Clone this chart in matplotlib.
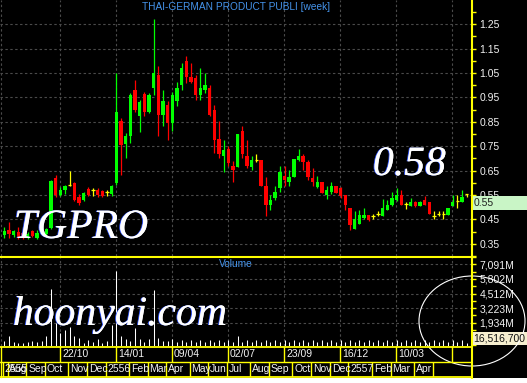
import matplotlib
matplotlib.use("Agg")
import matplotlib.pyplot as plt
import matplotlib.patheffects as pe
from matplotlib.patches import Rectangle, Ellipse
import numpy as np

# weekly OHLC, week 0 = 30/07/2012
opens = [0.385, 0.408, 0.385, 0.400, 0.395, 0.372, 0.401, 0.372, 0.390, 0.392,
         0.415, 0.620, 0.551, 0.572, 0.590, 0.599, 0.540, 0.531, 0.575, 0.569,
         0.572, 0.565, 0.563, 0.556, 0.599, 0.852, 0.759, 0.790, 0.981, 0.872,
         0.963, 0.892, 0.990, 1.043, 0.879, 0.920, 0.845, 0.934, 1.002, 1.101,
         1.033, 1.029, 0.961, 0.981, 0.988, 0.900, 0.779, 0.711, 0.738, 0.670,
         0.665, 0.811, 0.711, 0.665, 0.695, 0.692, 0.588, 0.511, 0.538, 0.579,
         0.629, 0.602, 0.624, 0.692, 0.711, 0.684, 0.620, 0.583, 0.602, 0.552,
         0.561, 0.588, 0.579, 0.552, 0.497, 0.411, 0.433, 0.456, 0.470, 0.463,
         0.474, 0.466, 0.488, 0.511, 0.531, 0.552, 0.515, 0.504, 0.520, 0.504,
         0.531, 0.520, 0.466, 0.474, 0.474, 0.470, 0.504, 0.524, 0.520, 0.553]
highs = [0.419, 0.441, 0.408, 0.420, 0.400, 0.398, 0.405, 0.405, 0.410, 0.415,
         0.612, 0.630, 0.583, 0.590, 0.650, 0.602, 0.553, 0.562, 0.583, 0.578,
         0.578, 0.572, 0.572, 0.590, 1.049, 0.865, 0.804, 0.968, 1.022, 0.940,
         0.972, 0.968, 1.272, 1.078, 0.981, 0.934, 0.974, 1.015, 1.090, 1.120,
         1.090, 1.043, 1.070, 1.050, 1.002, 0.920, 0.852, 0.774, 0.752, 0.688,
         0.801, 0.831, 0.774, 0.711, 0.719, 0.692, 0.624, 0.552, 0.588, 0.670,
         0.670, 0.651, 0.698, 0.738, 0.719, 0.692, 0.661, 0.629, 0.602, 0.586,
         0.602, 0.588, 0.583, 0.552, 0.497, 0.483, 0.490, 0.497, 0.470, 0.474,
         0.483, 0.534, 0.530, 0.561, 0.579, 0.572, 0.520, 0.538, 0.525, 0.525,
         0.545, 0.520, 0.483, 0.483, 0.483, 0.497, 0.552, 0.552, 0.572, 0.553]
lows = [0.372, 0.372, 0.376, 0.370, 0.368, 0.368, 0.378, 0.368, 0.385, 0.388,
        0.410, 0.541, 0.548, 0.555, 0.585, 0.524, 0.510, 0.527, 0.548, 0.548,
        0.540, 0.542, 0.548, 0.545, 0.592, 0.633, 0.702, 0.763, 0.892, 0.810,
        0.872, 0.885, 0.961, 0.790, 0.831, 0.777, 0.811, 0.913, 0.981, 1.011,
        1.011, 0.940, 0.940, 0.970, 0.872, 0.722, 0.702, 0.643, 0.668, 0.602,
        0.665, 0.702, 0.661, 0.651, 0.684, 0.588, 0.463, 0.490, 0.531, 0.561,
        0.588, 0.588, 0.624, 0.688, 0.651, 0.610, 0.586, 0.579, 0.558, 0.534,
        0.556, 0.558, 0.538, 0.490, 0.406, 0.411, 0.433, 0.452, 0.442, 0.452,
        0.463, 0.466, 0.488, 0.506, 0.524, 0.511, 0.493, 0.504, 0.500, 0.504,
        0.511, 0.474, 0.452, 0.463, 0.452, 0.470, 0.504, 0.497, 0.520, 0.540]
closes = [0.401, 0.392, 0.401, 0.375, 0.372, 0.392, 0.381, 0.395, 0.400, 0.410,
          0.609, 0.552, 0.572, 0.588, 0.590, 0.531, 0.517, 0.559, 0.551, 0.569,
          0.551, 0.545, 0.563, 0.586, 0.890, 0.753, 0.790, 0.961, 0.900, 0.933,
          0.892, 0.961, 1.049, 0.879, 0.934, 0.845, 0.961, 0.988, 1.070, 1.033,
          1.015, 0.961, 0.988, 1.002, 0.879, 0.777, 0.719, 0.733, 0.681, 0.654,
          0.801, 0.719, 0.670, 0.692, 0.695, 0.588, 0.511, 0.531, 0.561, 0.643,
          0.613, 0.624, 0.698, 0.711, 0.684, 0.624, 0.602, 0.602, 0.558, 0.572,
          0.588, 0.558, 0.545, 0.511, 0.429, 0.452, 0.470, 0.470, 0.449, 0.463,
          0.474, 0.497, 0.511, 0.538, 0.552, 0.511, 0.515, 0.520, 0.504, 0.520,
          0.511, 0.474, 0.466, 0.474, 0.474, 0.497, 0.520, 0.524, 0.542, 0.553]
# weekly volume, millions of shares
volume = [350, 765, 264, 176, 176, 264, 350, 264, 350, 765,
          4957, 1880, 1055, 1290, 1530, 765, 560, 120, 410, 264,
          470, 120, 350, 1730, 6500, 765, 470, 350, 1440, 470,
          264, 470, 4800, 560, 350, 350, 470, 200, 400, 200,
          400, 200, 400, 200, 400, 200, 400, 200, 400, 200,
          765, 200, 400, 200, 400, 200, 400, 200, 400, 200,
          400, 200, 400, 200, 400, 200, 400, 200, 400, 200,
          400, 200, 400, 200, 400, 200, 400, 200, 400, 200,
          400, 200, 400, 200, 400, 200, 400, 200, 400, 200,
          400, 200, 400, 200, 400, 200, 400, 200, 400, 180]
last_volume = "16,516,700"

top_dates = ["22/10", "14/01", "09/04", "02/07", "23/09", "16/12", "10/03", ""]
top_idx = [12, 24, 36, 48, 60, 72, 84, 96]
month_lbl = ["2555", "Aug", "Sep", "Oct", "Nov", "Dec", "2556", "Feb", "Mar",
             "Apr", "May", "Jun", "Jul", "Aug", "Sep", "Oct", "Nov", "Dec",
             "2557", "Feb", "Mar", "Apr", ""]
month_idx = [0, 1, 5, 9, 14, 18, 22, 27, 31, 35, 40, 44, 48, 53, 57, 62, 66,
             70, 74, 79, 83, 88, 92]
price_ticks = [0.35, 0.45, 0.55, 0.65, 0.75, 0.85, 0.95, 1.05, 1.15, 1.25]
vol_ticks = [1934, 3223, 4512, 5802, 7091]

W, H = 527, 383
YEL = "#ffff00"
GRID = "#4a4a4a"
LBL = "#f2f2f2"
FONT = "Liberation Sans"

fig = plt.figure(figsize=(W / 100, H / 100), dpi=100, facecolor="black")


def add_px_axes(x0, y0, x1, y1, **kw):
    return fig.add_axes([x0 / W, 1 - y1 / H, (x1 - x0) / W, (y1 - y0) / H], **kw)


# x in week units: pixel = 4.3 + 4.67 * i
xl = ((0 - 4.3) / 4.67, (471 - 4.3) / 4.67)
n = len(opens)
idx = np.arange(n)

# ---- price panel
ax = add_px_axes(0, 0, 471, 256)
ax.set_facecolor("black")
ax.set_xlim(*xl)
ax.set_ylim(1.25 - (256 - 24.3) / 244.4, 1.25 + 24.3 / 244.4)
for s in ax.spines.values():
    s.set_visible(False)
ax.set_xticks([])
ax.yaxis.tick_right()
ax.set_yticks(price_ticks)
ax.set_yticklabels(["%.2f" % v for v in price_ticks])
ax.set_yticks(np.arange(0.30, 1.36, 0.1), minor=True)
ax.tick_params(axis="y", which="both", colors=YEL, labelcolor=LBL,
               length=3.5, width=1.0, pad=2.5, labelsize=7.5)
for t in ax.get_yticklabels():
    t.set_fontfamily(FONT)
for v in price_ticks:
    ax.axhline(v, color=GRID, lw=0.8, ls=(0, (2.2, 2.2)), zorder=0)
for i in top_idx:
    ax.axvline(i - 0.05, color=GRID, lw=0.8, ls=(0, (2.2, 2.2)), zorder=0)
ax.axvline(xl[0] + 0.2, color=GRID, lw=0.8, ls=(0, (2.2, 2.2)), zorder=0)

o = np.array(opens); c = np.array(closes)
hi = np.array(highs); lo = np.array(lows)
col = np.where(c > o, "#00ff00", np.where(c < o, "#ff0000", YEL))
ax.vlines(idx, lo, hi, colors=col, lw=0.9, zorder=2)
body = c != o
ax.bar(idx[body], (np.abs(c - o))[body], bottom=np.minimum(o, c)[body],
       width=0.72, color=col[body], lw=0, zorder=3)
ax.hlines(c[~body], idx[~body] - 0.38, idx[~body] + 0.38, colors=YEL,
          lw=0.9, zorder=3)

ax.text(0.5, 0.972, "THAI-GERMAN PRODUCT PUBLI [week]", transform=ax.transAxes,
        ha="center", va="center", color="#4593ea", fontsize=7.3, family=FONT)

# ---- volume panel
vx = add_px_axes(0, 257, 471, 346)
vx.set_facecolor("black")
vx.set_xlim(*xl)
vx.set_ylim(-117, 7706)
for s in vx.spines.values():
    s.set_visible(False)
vx.set_xticks([])
vx.yaxis.tick_right()
vx.set_yticks(vol_ticks)
vx.set_yticklabels(["{:,}M".format(v) for v in vol_ticks])
vx.set_yticks([645 * k for k in range(0, 13, 2)], minor=True)
vx.tick_params(axis="y", which="both", colors=YEL, labelcolor=LBL,
               length=3.5, width=1.0, pad=2.5, labelsize=7.5)
for t in vx.get_yticklabels():
    t.set_fontfamily(FONT)
for v in vol_ticks:
    vx.axhline(v, color=GRID, lw=0.8, ls=(0, (2.2, 2.2)), zorder=0)
for i in top_idx:
    vx.axvline(i - 0.05, color=GRID, lw=0.8, ls=(0, (2.2, 2.2)), zorder=0)
vx.axvline(xl[0] + 0.2, color=GRID, lw=0.8, ls=(0, (2.2, 2.2)), zorder=0)
vx.vlines(idx, -117, volume, colors="white", lw=0.75, zorder=2)
vx.text(0.5, 0.92, "Volume", transform=vx.transAxes, ha="center", va="center",
        color="#4593ea", fontsize=7.3, family=FONT)

# ---- date rows
dx = add_px_axes(0, 346, 471, 377)
dx.set_facecolor("black")
dx.set_xlim(*xl)
dx.set_ylim(2, 0)
dx.axis("off")
for i, lab in zip(top_idx, top_dates):
    dx.vlines(i - 0.05, 0, 1, colors=YEL, lw=1.0)
    dx.text(i + 0.35, 0.5, lab, ha="left", va="center", color=LBL,
            fontsize=7.5, family=FONT)
for i, lab in zip(month_idx, month_lbl):
    dx.vlines(i - 0.3, 1, 2, colors=YEL, lw=1.0)
    dx.text(i + 0.1, 1.5, lab, ha="left", va="center", color=LBL,
            fontsize=7.5, family=FONT)

# ---- overlay: frame lines, watermarks, boxes
ov = fig.add_axes([0, 0, 1, 1], zorder=10)
ov.set_xlim(0, W)
ov.set_ylim(H, 0)
ov.axis("off")
ov.patch.set_alpha(0)
ov.add_patch(Rectangle((0, 377.5), W, 6, color="white", lw=0))
ov.plot([471.5, 471.5], [0, 377.5], color=YEL, lw=1.5)
ov.plot([0, 471], [256.5, 256.5], color=YEL, lw=1.5)
ov.plot([0, 471], [346.5, 346.5], color=YEL, lw=1.3)
ov.plot([0, 471], [361.5, 361.5], color=YEL, lw=1.0)
ov.plot([0, 471.5], [376.8, 376.8], color=YEL, lw=1.3)
ov.plot([0.6, 0.6], [346.5, 376.8], color=YEL, lw=1.0)

fx = [pe.withSimplePatchShadow(offset=(-0.7, 0), shadow_rgbFace="#3a5cff", alpha=1.0),
      pe.Normal()]
ov.text(14, 238, "TGPRO", color="white", fontsize=30, family="Liberation Serif",
        style="italic", ha="left", va="baseline", path_effects=fx)
ov.text(373, 175, "0.58", color="white", fontsize=30, family="Liberation Serif",
        style="italic", ha="left", va="baseline", path_effects=fx)
ov.text(13, 325, "hoonyai.com", color="white", fontsize=30, family="Liberation Serif",
        style="italic", ha="left", va="baseline", path_effects=fx)

ov.add_patch(Rectangle((472.5, 195.5), 55, 14, facecolor="#c9f5c6", lw=0))
ov.text(474, 202.5, "%.2f" % closes[-1], color="#202020", fontsize=7.5,
        family=FONT, ha="left", va="center")
ov.add_patch(Rectangle((472.5, 332), 55, 13, facecolor="#f6efcf", lw=0))
ov.text(473, 338.5, last_volume, color="#101010", fontsize=7.5,
        family=FONT, ha="left", va="center")
ov.add_patch(Ellipse((472, 321), 106, 90, fill=False, edgecolor="white", lw=0.8))

fig.savefig("out.png", dpi=100, facecolor="black")
